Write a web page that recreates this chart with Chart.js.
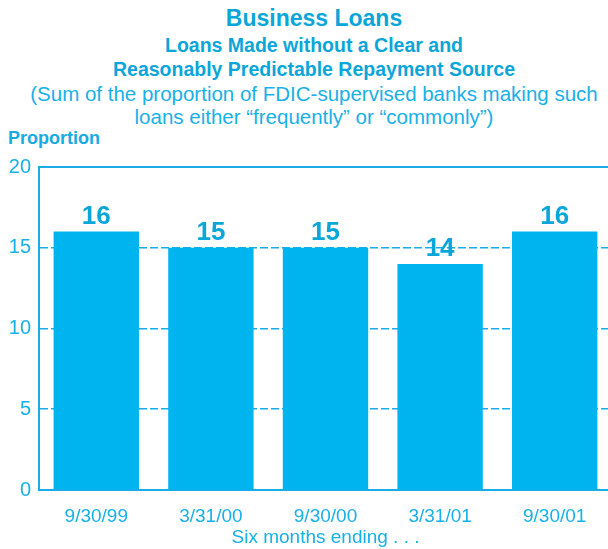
<!DOCTYPE html>
<html>
<head>
<meta charset="utf-8">
<script src="https://cdn.jsdelivr.net/npm/chart.js@4"></script>
<style>
  html, body { margin: 0; padding: 0; background: #fff; overflow: hidden; }
  body { width: 608px; height: 549px; position: relative; font-family: "Liberation Sans", Arial, sans-serif; }
  .hd { position: absolute; left: 0; width: 628px; text-align: center; color: #0ba6d9; white-space: nowrap; line-height: 24px; }
  .t1 { top: 6px; font-size: 23px; font-weight: bold; }
  .t2 { top: 33px; font-size: 19.5px; font-weight: bold; }
  .t3 { top: 57px; font-size: 19.5px; font-weight: bold; }
  .t4 { top: 82px; font-size: 20.5px; color: #18b0e8; }
  .t5 { top: 105px; font-size: 20.5px; color: #18b0e8; }
  .ylab { position: absolute; left: 8px; top: 127px; font-size: 18px; line-height: 22px; font-weight: bold; color: #18abe2; }
  #wrap { position: absolute; left: 0; top: 0; width: 612px; height: 549px; }
</style>
</head>
<body>
<div class="hd t1">Business Loans</div>
<div class="hd t2">Loans Made without a Clear and</div>
<div class="hd t3">Reasonably Predictable Repayment Source</div>
<div class="hd t4">(Sum of the proportion of FDIC-supervised banks making such</div>
<div class="hd t5">loans either “frequently” or “commonly”)</div>
<div class="ylab">Proportion</div>
<div id="wrap"><canvas id="loans"></canvas></div>
<script>
const periods = ["9/30/99", "3/31/00", "9/30/00", "3/31/01", "9/30/01"];
const proportion = [16, 15, 15, 14, 16];
const yTicks = [0, 5, 10, 15, 20];

const cyan = "#00b5ef";
const axisCol = "#19ace6";
const labelCol = "#18b0e8";
const fontFamily = "'Liberation Sans', Arial, sans-serif";

// value labels above each bar
const barValues = {
  id: "barValues",
  afterDatasetsDraw(chart) {
    const ctx = chart.ctx;
    const meta = chart.getDatasetMeta(0);
    ctx.save();
    ctx.font = "bold 26px " + fontFamily;
    ctx.fillStyle = "#0ba6d9";
    ctx.textAlign = "center";
    ctx.textBaseline = "middle";
    meta.data.forEach((bar, i) => {
      ctx.fillText(String(proportion[i]), bar.x, bar.y - 15);
    });
    ctx.restore();
  }
};

// solid frame line along the top of the plot
const topLine = {
  id: "topLine",
  afterDraw(chart) {
    const { ctx, chartArea } = chart;
    ctx.save();
    ctx.strokeStyle = axisCol;
    ctx.lineWidth = 2;
    ctx.beginPath();
    ctx.moveTo(chartArea.left - 1, chartArea.top);
    ctx.lineTo(chartArea.right + 10, chartArea.top);
    ctx.stroke();
    ctx.restore();
  }
};

new Chart(document.getElementById("loans"), {
  type: "bar",
  data: {
    labels: periods,
    datasets: [{
      data: proportion,
      backgroundColor: cyan,
      barPercentage: 0.745,
      categoryPercentage: 1
    }]
  },
  options: {
    responsive: true,
    maintainAspectRatio: false,
    animation: false,
    layout: { padding: { top: 167, left: 0, right: 0, bottom: 0 } },
    plugins: {
      legend: { display: false },
      tooltip: { enabled: false }
    },
    scales: {
      x: {
        grid: { display: false, drawTicks: false },
        border: { display: true, color: axisCol, width: 2 },
        ticks: {
          color: labelCol,
          padding: 15,
          font: { family: fontFamily, size: 19 }
        },
        title: {
          display: true,
          text: "Six months ending . . .",
          color: labelCol,
          padding: { top: -1, bottom: 0 },
          font: { family: fontFamily, size: 19 }
        },
        afterFit(scale) { scale.height = 59; }
      },
      y: {
        min: 0,
        max: 20,
        afterBuildTicks(scale) {
          scale.ticks = yTicks.map(v => ({ value: v }));
        },
        grid: {
          drawTicks: false,
          lineWidth: 1.6,
          color: ctx => (ctx.tick && (ctx.tick.value === 0 || ctx.tick.value === 20)) ? "rgba(0,0,0,0)" : axisCol
        },
        border: { display: true, color: axisCol, width: 2, dash: [8, 3] },
        ticks: {
          color: labelCol,
          padding: 8,
          font: { family: fontFamily, size: 20 }
        },
        afterFit(scale) { scale.width = 39; }
      }
    }
  },
  plugins: [barValues, topLine]
});
</script>
</body>
</html>
